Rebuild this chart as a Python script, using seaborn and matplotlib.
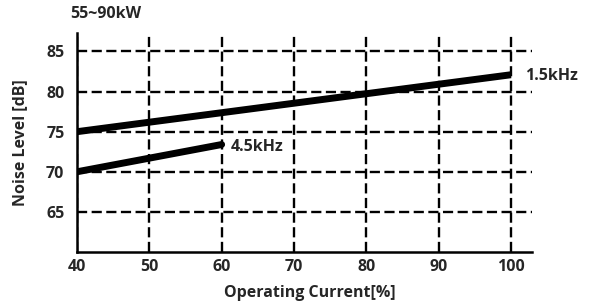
import matplotlib
matplotlib.use('Agg')
import matplotlib.pyplot as plt
import seaborn as sns
import pandas as pd

# values
current_15k = [40, 100]
noise_15k = [75.0, 82.1]
current_45k = [40, 60]
noise_45k = [70.0, 73.4]
x_ticks = [40, 50, 60, 70, 80, 90, 100]
y_ticks = [65, 70, 75, 80, 85]

df = pd.concat([
    pd.DataFrame({'current': current_15k, 'noise': noise_15k, 'freq': '1.5kHz'}),
    pd.DataFrame({'current': current_45k, 'noise': noise_45k, 'freq': '4.5kHz'}),
])

sns.set_style('white')
plt.rcParams['font.family'] = ['Open Sans', 'DejaVu Sans']
plt.rcParams['font.weight'] = 'bold'

fig = plt.figure(figsize=(5.9, 3.06), dpi=100)
ax = fig.add_axes([0.1305, 0.1765, 0.771, 0.7155])

sns.lineplot(data=df, x='current', y='noise', units='freq', estimator=None,
             color='black', linewidth=5, ax=ax, zorder=3)
ax.lines[0].set_solid_capstyle('butt')

ax.set_xlim(40, 102.9)
ax.set_ylim(60, 87.3)
ax.set_xticks(x_ticks)
ax.set_yticks(y_ticks)
ax.grid(True, color='black', linestyle=(0, (4.3, 1.9)), linewidth=1.7)
ax.tick_params(axis='y', length=0, labelsize=11.5, pad=9)
ax.tick_params(axis='x', length=0, labelsize=11.5, pad=5)
for lab in ax.get_xticklabels() + ax.get_yticklabels():
    lab.set_fontweight('bold')

sns.despine(ax=ax)
ax.spines['left'].set_linewidth(1.8)
ax.spines['bottom'].set_linewidth(1.8)
ax.spines['left'].set_color('black')
ax.spines['bottom'].set_color('black')

ax.set_xlabel('Operating Current[%]', fontsize=11.5, fontweight='bold')
ax.set_ylabel('Noise Level [dB]', fontsize=11.5, fontweight='bold')
ax.xaxis.set_label_coords(0.512, -0.187)
ax.yaxis.set_label_coords(-0.125, 0.5)
ax.xaxis.label.set_va('center')
ax.yaxis.label.set_va('center')

ax.text(current_15k[-1] + 1.9, noise_15k[-1] - 0.1, '1.5kHz', fontsize=11.5,
        fontweight='bold', va='center', ha='left')
ax.text(current_45k[-1] + 1.3, noise_45k[-1] - 0.3, '4.5kHz', fontsize=11.5,
        fontweight='bold', va='center', ha='left')
fig.text(70 / 590, 1 - 14 / 306, '55~90kW', fontsize=11.5, fontweight='bold', va='center')

fig.savefig('out.png', dpi=100)
